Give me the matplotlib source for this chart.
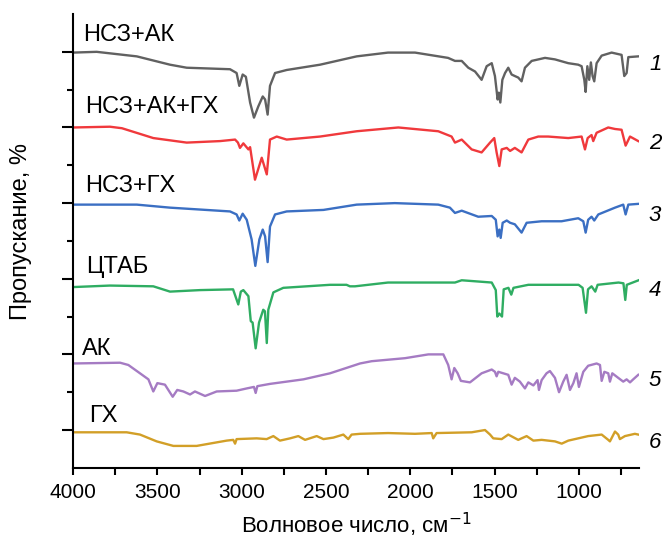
import matplotlib.pyplot as plt
from matplotlib.ticker import MultipleLocator

plt.rcParams['font.family'] = ['Liberation Sans', 'DejaVu Sans']

# IR spectra: wavenumber (cm-1) and stacked transmittance (axis units)
wn1 = [4000, 3860, 3622, 3425, 3326, 3069, 3030, 3014, 2994, 2975, 2950, 2927, 2901, 2875, 2861,
       2846, 2832, 2802, 2733, 2535, 2318, 2132, 1972, 1776, 1735, 1695, 1656, 1616, 1577, 1547,
       1517, 1498, 1482, 1475, 1466, 1454, 1438, 1419, 1399, 1380, 1360, 1340, 1320, 1280, 1201,
       1142, 1063, 1004, 984, 968, 960, 950, 939, 929, 919, 909, 895, 865, 806, 747, 731, 717,
       707, 648]
t1 = [5.49, 5.50, 5.44, 5.33, 5.29, 5.27, 5.22, 5.05, 5.20, 5.17, 4.83, 4.63, 4.78, 4.91, 4.87,
      4.67, 5.05, 5.22, 5.26, 5.33, 5.44, 5.49, 5.49, 5.42, 5.38, 5.38, 5.29, 5.24, 5.13, 5.31,
      5.35, 5.18, 4.87, 4.96, 4.83, 5.13, 5.22, 5.29, 5.20, 5.18, 5.16, 5.11, 5.29, 5.38, 5.42,
      5.40, 5.35, 5.33, 5.31, 5.13, 4.97, 5.31, 5.13, 5.36, 5.18, 5.11, 5.35, 5.45, 5.49, 5.46,
      5.18, 5.22, 5.43, 5.44]

wn2 = [4000, 3781, 3710, 3524, 3326, 3128, 3039, 3022, 3010, 2990, 2960, 2950, 2921, 2881, 2851,
       2832, 2792, 2733, 2535, 2318, 2071, 1834, 1755, 1735, 1695, 1636, 1577, 1527, 1502, 1488,
       1472, 1458, 1428, 1408, 1380, 1340, 1300, 1241, 1182, 1063, 984, 964, 948, 925, 915, 895,
       826, 786, 747, 723, 697, 648]
t2 = [4.50, 4.51, 4.49, 4.36, 4.30, 4.32, 4.34, 4.30, 4.23, 4.29, 4.21, 4.24, 3.81, 4.10, 3.88,
      4.34, 4.38, 4.34, 4.38, 4.45, 4.50, 4.45, 4.38, 4.30, 4.34, 4.21, 4.17, 4.30, 4.36, 4.17,
      3.99, 4.21, 4.23, 4.19, 4.23, 4.17, 4.34, 4.38, 4.38, 4.36, 4.38, 4.21, 4.36, 4.40, 4.32,
      4.43, 4.50, 4.48, 4.47, 4.26, 4.38, 4.32]

wn3 = [4000, 3622, 3425, 3069, 3030, 3014, 2994, 2970, 2941, 2919, 2895, 2875, 2861, 2846, 2832,
       2802, 2733, 2515, 2318, 2092, 1834, 1765, 1735, 1695, 1597, 1517, 1493, 1482, 1472, 1464,
       1452, 1428, 1408, 1380, 1340, 1310, 1221, 1103, 1004, 974, 960, 945, 925, 909, 885, 786,
       737, 723, 707, 648]
t3 = [3.48, 3.48, 3.44, 3.39, 3.35, 3.27, 3.36, 3.28, 3.02, 2.67, 3.02, 3.15, 3.06, 2.72, 3.19,
      3.35, 3.39, 3.41, 3.48, 3.50, 3.48, 3.44, 3.37, 3.40, 3.32, 3.33, 3.28, 3.06, 3.15, 3.04,
      3.24, 3.27, 3.24, 3.22, 3.11, 3.24, 3.26, 3.26, 3.30, 3.26, 3.11, 3.28, 3.32, 3.27, 3.35,
      3.44, 3.48, 3.35, 3.48, 3.49]

wn4 = [4000, 3781, 3524, 3425, 3247, 3051, 3020, 3005, 2990, 2960, 2946, 2935, 2917, 2897, 2872,
       2862, 2851, 2842, 2812, 2753, 2476, 2378, 2358, 2328, 2132, 1735, 1695, 1517, 1493, 1484,
       1472, 1456, 1446, 1418, 1401, 1388, 1300, 1002, 978, 958, 946, 925, 903, 889, 765, 736,
       725, 716, 646]
t4 = [2.39, 2.41, 2.40, 2.33, 2.35, 2.36, 2.16, 2.33, 2.35, 2.27, 1.94, 1.92, 1.58, 1.92, 2.09,
      2.07, 1.65, 2.09, 2.32, 2.38, 2.42, 2.42, 2.40, 2.40, 2.45, 2.45, 2.48, 2.45, 2.35, 2.00,
      2.04, 2.00, 2.36, 2.38, 2.29, 2.38, 2.42, 2.42, 2.38, 2.05, 2.36, 2.40, 2.33, 2.42, 2.45,
      2.44, 2.22, 2.42, 2.48]

wn5 = [4000, 3721, 3672, 3603, 3553, 3524, 3500, 3455, 3409, 3382, 3346, 3306, 3277, 3217, 3148,
       3030, 2970, 2927, 2917, 2907, 2832, 2634, 2476, 2298, 2229, 2031, 1893, 1804, 1775, 1755,
       1739, 1719, 1700, 1646, 1577, 1517, 1498, 1488, 1478, 1419, 1399, 1380, 1350, 1320, 1300,
       1270, 1245, 1237, 1221, 1192, 1172, 1142, 1118, 1093, 1073, 1053, 1033, 1014, 1000, 974,
       945, 895, 875, 865, 849, 826, 816, 802, 767, 737, 717, 697, 678, 648]
t5 = [1.38, 1.39, 1.36, 1.25, 1.17, 1.01, 1.12, 1.10, 0.94, 1.03, 1.01, 0.97, 1.01, 0.95, 1.01,
      1.02, 1.05, 1.07, 0.99, 1.08, 1.11, 1.17, 1.25, 1.38, 1.41, 1.45, 1.50, 1.50, 1.36, 1.17,
      1.32, 1.25, 1.15, 1.13, 1.25, 1.30, 1.27, 1.21, 1.27, 1.23, 1.10, 1.19, 1.14, 1.05, 1.13,
      1.09, 1.16, 1.03, 1.16, 1.25, 1.28, 1.19, 1.00, 1.14, 1.23, 1.03, 1.12, 1.25, 1.07, 1.27,
      1.35, 1.38, 1.36, 1.15, 1.27, 1.25, 1.14, 1.25, 1.19, 1.14, 1.17, 1.13, 1.17, 1.23]

wn6 = [4000, 3682, 3603, 3504, 3405, 3267, 3089, 3050, 3039, 3030, 2911, 2852, 2812, 2773, 2713,
       2664, 2624, 2555, 2515, 2456, 2397, 2368, 2348, 2298, 2132, 1972, 1873, 1864, 1844, 1636,
       1557, 1527, 1508, 1458, 1419, 1360, 1310, 1270, 1221, 1142, 1102, 1063, 945, 865, 826,
       816, 786, 767, 757, 727, 668, 648]
t6 = [0.47, 0.47, 0.44, 0.35, 0.29, 0.29, 0.36, 0.37, 0.32, 0.38, 0.39, 0.38, 0.42, 0.36, 0.39,
      0.42, 0.37, 0.42, 0.38, 0.40, 0.44, 0.38, 0.44, 0.45, 0.46, 0.45, 0.46, 0.39, 0.46, 0.47,
      0.50, 0.44, 0.39, 0.38, 0.44, 0.37, 0.42, 0.36, 0.37, 0.35, 0.32, 0.36, 0.42, 0.44, 0.37,
      0.35, 0.48, 0.44, 0.38, 0.42, 0.45, 0.44]

spectra = [(wn1, t1), (wn2, t2), (wn3, t3), (wn4, t4), (wn5, t5), (wn6, t6)]
names = ['НСЗ+АК', 'НСЗ+АК+ГХ', 'НСЗ+ГХ', 'ЦТАБ', 'АК', 'ГХ']
numbers = ['1', '2', '3', '4', '5', '6']
colors = ['#616161', '#f0393c', '#3b6fc3', '#2fad62', '#a57bc3', '#d29f27']

# where the names and numbers sit (axis units)
name_x = [3940, 3930, 3930, 3920, 3945, 3905]
name_y = [5.72, 4.77, 3.72, 2.65, 1.57, 0.68]
num_y = [5.33, 4.29, 3.34, 2.34, 1.16, 0.33]

fig = plt.figure(figsize=(6.64, 5.39), dpi=100)
ax = fig.add_axes([0.110, 0.132, 0.852, 0.842])

for (wn, t), c in zip(spectra, colors):
    ax.plot(wn, t, color=c, lw=1.7, solid_joinstyle='round')

for nm, x, y in zip(names, name_x, name_y):
    ax.text(x, y, nm, fontsize=17, va='center', ha='left')

for n, y in zip(numbers, num_y):
    ax.text(1.018, y, n, transform=ax.get_yaxis_transform(), fontsize=16,
            style='italic', va='center', ha='left', clip_on=False)

ax.set_xlim(4000, 645)
ax.set_ylim(0, 6)
ax.xaxis.set_major_locator(MultipleLocator(500))
ax.xaxis.set_minor_locator(MultipleLocator(250))
ax.set_yticks([0.5, 1.5, 2.5, 3.5, 4.5, 5.5])
ax.set_yticks([1, 2, 3, 4, 5], minor=True)
ax.set_yticklabels([])

ax.spines['top'].set_visible(False)
ax.spines['right'].set_visible(False)
for s in ['left', 'bottom']:
    ax.spines[s].set_linewidth(1.5)

ax.tick_params(axis='x', which='both', direction='out', length=5, width=1.5, labelsize=15, pad=6)
ax.tick_params(axis='y', which='major', direction='out', length=8, width=1.5)
ax.tick_params(axis='y', which='minor', direction='out', length=4, width=1.5)

ax.set_xlabel('Волновое число, см$^{-1}$', fontsize=16, labelpad=6)
ax.set_ylabel('Пропускание, %', fontsize=17)
ax.yaxis.set_label_coords(-0.072, 0.52)

fig.savefig('out.png', dpi=100)
